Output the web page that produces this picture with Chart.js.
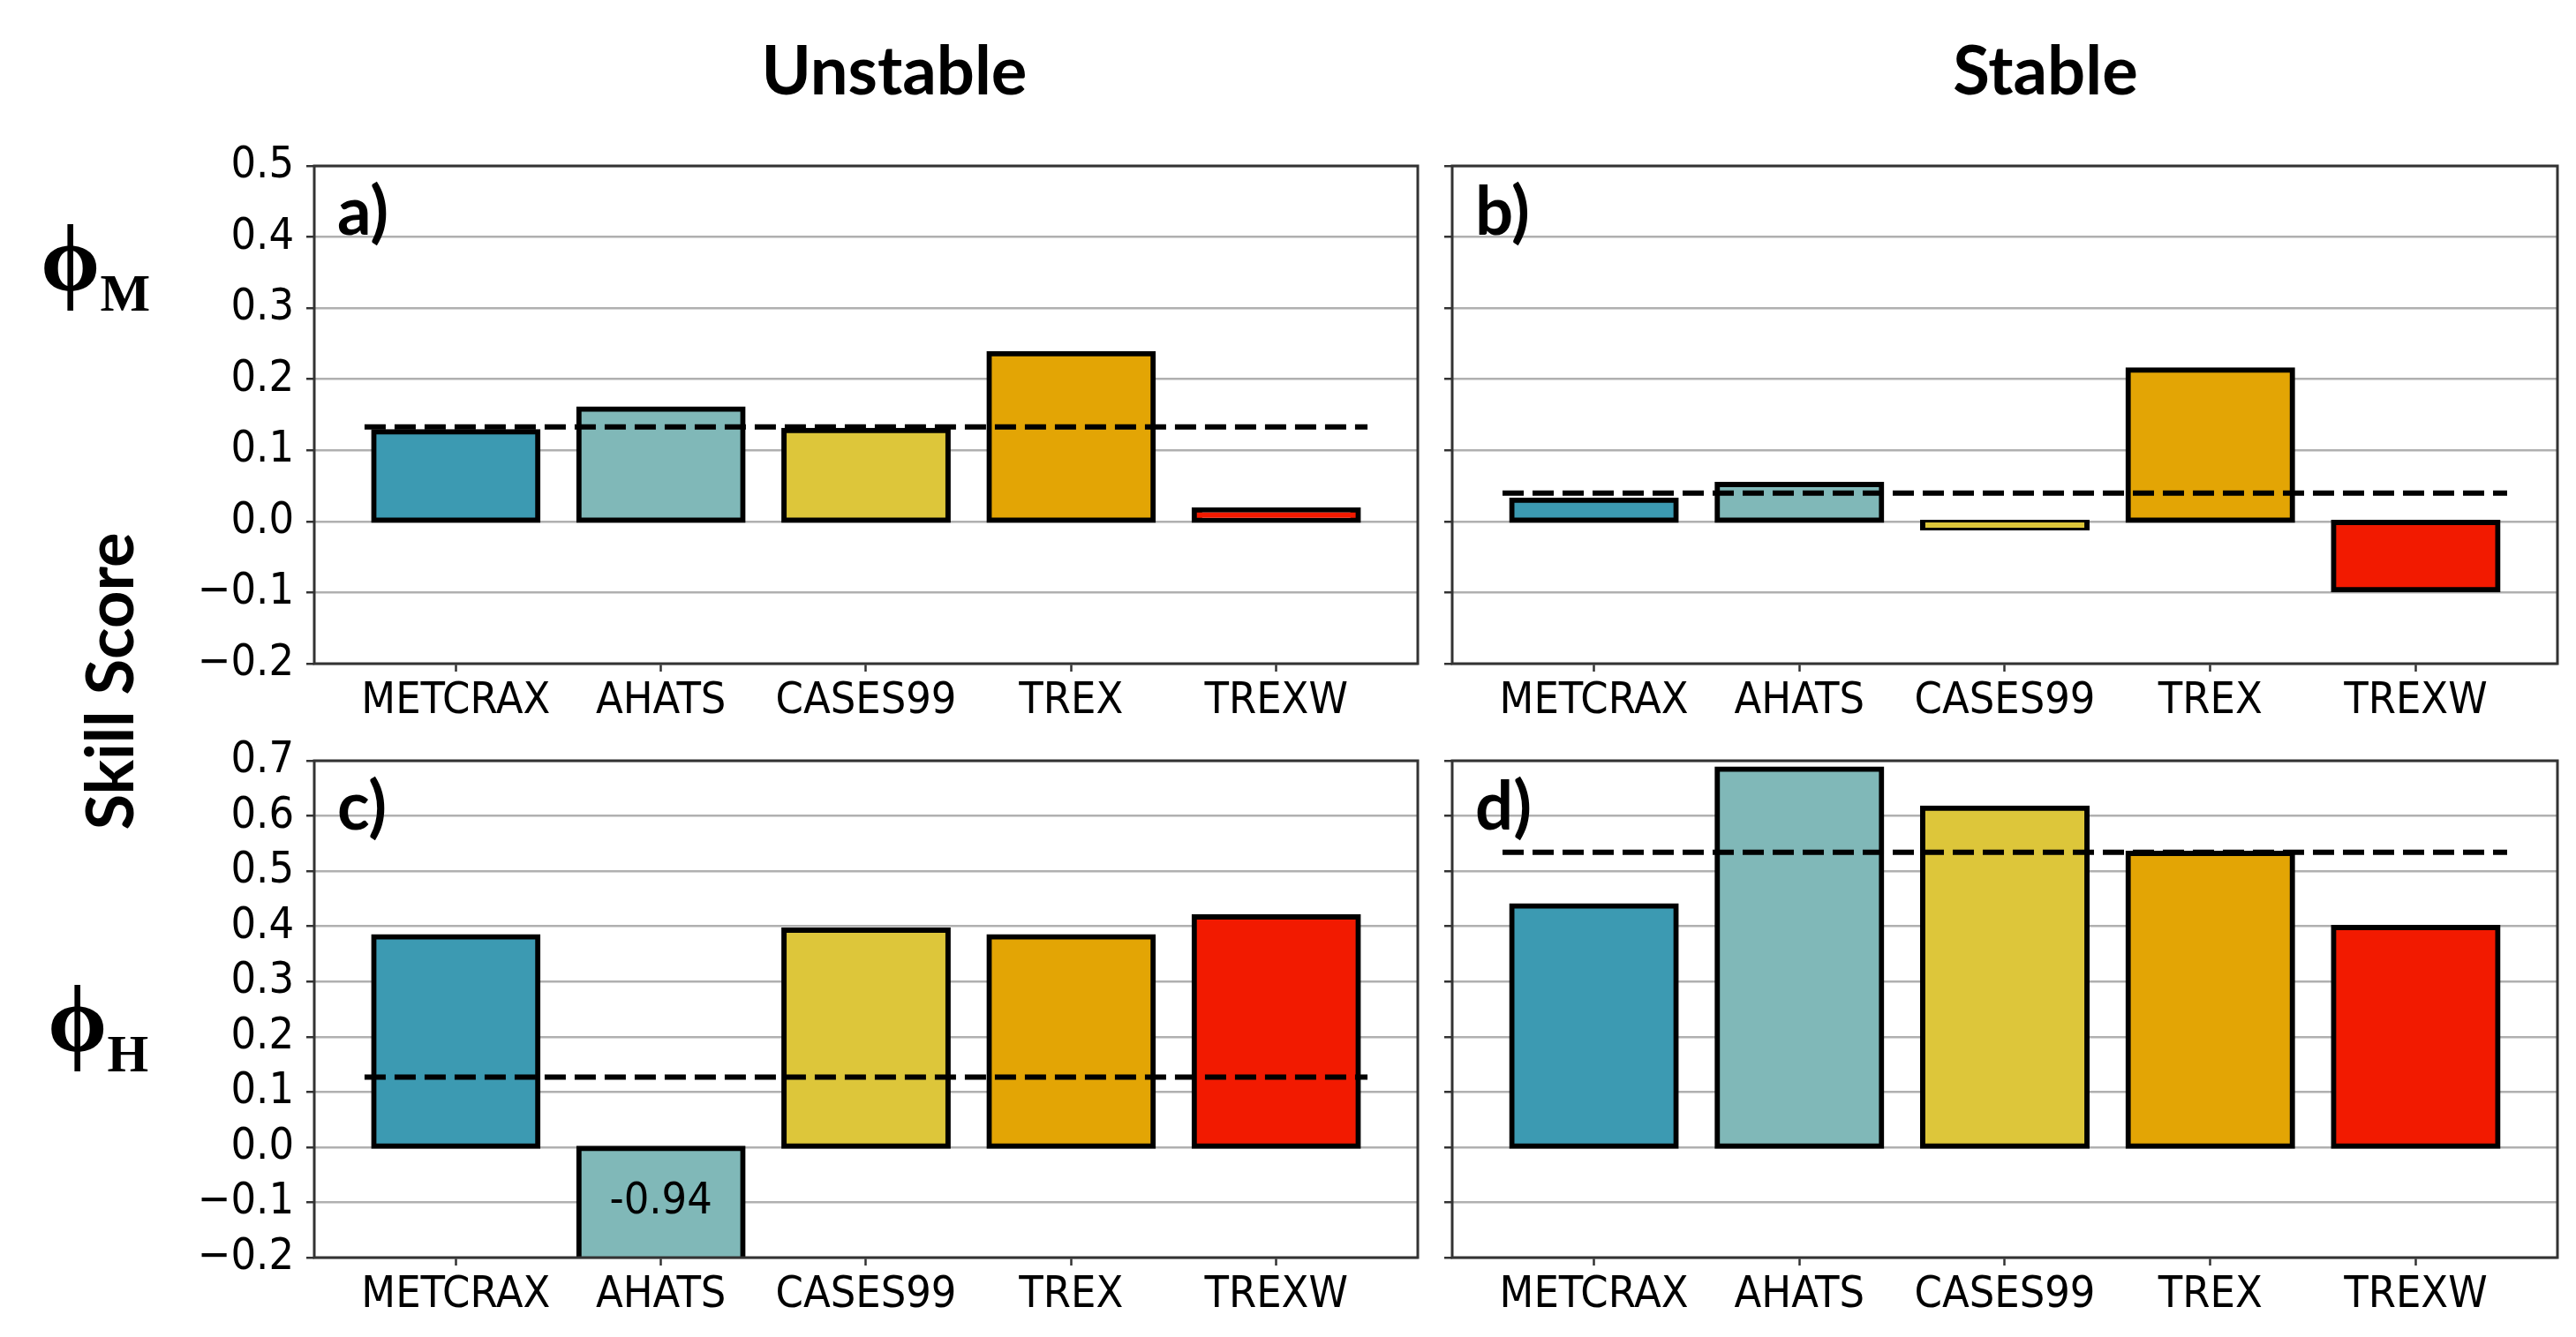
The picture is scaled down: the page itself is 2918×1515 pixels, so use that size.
<!DOCTYPE html>
<html>
<head>
<meta charset="utf-8">
<script src="https://cdn.jsdelivr.net/npm/chart.js@4.4.1/dist/chart.umd.min.js"></script>
<style>
  html, body { margin: 0; padding: 0; background: #fff; }
  #page { position: relative; width: 2918px; height: 1515px; overflow: hidden; }
  .panel { position: absolute; }
  .lbl { position: absolute; white-space: nowrap; color: #000; line-height: 1; }
  .title { font: bold 76px Lato, sans-serif; transform: translateX(-50%); }
  .phi { font-family: 'Liberation Serif', 'DejaVu Serif', serif; font-weight: bold; font-size: 108px; }
  .phi span { font-size: 60px; vertical-align: -23px; }
  .skill { font: bold 74px Lato, sans-serif; transform: translate(-50%, -50%) rotate(-90deg); }
</style>
</head>
<body>
<div id="page">
  <div class="lbl title" style="left:1013px; top:32px">Unstable</div>
  <div class="lbl title" style="left:2317px; top:32px">Stable</div>
  <div class="lbl phi" style="left:46px; top:239px">ϕ<span>M</span></div>
  <div class="lbl phi" style="left:54px; top:1101px">ϕ<span>H</span></div>
  <div class="lbl skill" style="left:122px; top:772px">Skill Score</div>
</div>
<script>
// skill scores per site
const categories = ['METCRAX', 'AHATS', 'CASES99', 'TREX', 'TREXW']
const barColors = ['#3c9ab2', '#80b8b8', '#ddc63a', '#e3a505', '#f21a00']
const unstablePhiM = [0.126, 0.158, 0.128, 0.236, 0.016]
const stablePhiM = [0.030, 0.052, -0.009, 0.213, -0.096]
const unstablePhiH = [0.381, -0.94, 0.393, 0.381, 0.417]
const stablePhiH = [0.437, 0.685, 0.614, 0.532, 0.398]
// dashed line level in panels a, b, c, d
const meanScores = [0.133, 0.040, 0.127, 0.534]
const phiMTicks = [-0.2, -0.1, 0.0, 0.1, 0.2, 0.3, 0.4, 0.5]
const phiHTicks = [-0.2, -0.1, 0.0, 0.1, 0.2, 0.3, 0.4, 0.5, 0.6, 0.7]

const tickFont = { family: "'DejaVu Sans Condensed', 'DejaVu Sans', sans-serif", size: 50 }
const padL = 130, padT = 40, padR = 20, padB = 100

const panels = [
  { letter: 'a)', values: unstablePhiM, mean: meanScores[0], ticks: phiMTicks, showY: true, box: [356, 184, 1606, 752] },
  { letter: 'b)', values: stablePhiM, mean: meanScores[1], ticks: phiMTicks, showY: false, box: [1645, 184, 2897, 752] },
  { letter: 'c)', values: unstablePhiH, mean: meanScores[2], ticks: phiHTicks, showY: true, box: [356, 858, 1606, 1425], note: true },
  { letter: 'd)', values: stablePhiH, mean: meanScores[3], ticks: phiHTicks, showY: false, box: [1645, 858, 2897, 1425] }
]

const fmt = v => (v < 0 ? '\u2212' : '') + Math.abs(v).toFixed(1)

// frame, panel letter and the clipped-bar value
const extras = {
  id: 'extras',
  afterDraw(chart, args, opts) {
    const { ctx, chartArea: a } = chart
    ctx.save()
    ctx.strokeStyle = '#333'
    ctx.lineWidth = 3
    ctx.strokeRect(a.left, a.top, a.right - a.left, a.bottom - a.top)
    ctx.fillStyle = '#000'
    ctx.font = 'bold 76px Lato, sans-serif'
    ctx.textAlign = 'left'
    ctx.textBaseline = 'alphabetic'
    ctx.fillText(opts.letter, a.left + 26, a.top + 78)
    if (opts.note) {
      const xs = chart.scales.x, ys = chart.scales.y
      const vals = chart.data.datasets[0].data
      const i = vals.findIndex(d => d.y < ys.min)
      ctx.font = tickFont.size + 'px ' + tickFont.family
      ctx.textAlign = 'center'
      ctx.textBaseline = 'middle'
      ctx.fillText(vals[i].y.toFixed(2), xs.getPixelForValue(i), ys.getPixelForValue(ys.min / 2))
    }
    ctx.restore()
  }
}

const page = document.getElementById('page')

panels.forEach(p => {
  const [L, T, R, B] = p.box
  const w = R - L + padL + padR
  const h = B - T + padT + padB
  const wrap = document.createElement('div')
  wrap.className = 'panel'
  wrap.style.left = (L - padL) + 'px'
  wrap.style.top = (T - padT) + 'px'
  const canvas = document.createElement('canvas')
  canvas.width = w
  canvas.height = h
  canvas.style.width = w + 'px'
  canvas.style.height = h + 'px'
  wrap.appendChild(canvas)
  page.appendChild(wrap)

  new Chart(canvas, {
    type: 'bar',
    data: {
      datasets: [
        {
          type: 'bar',
          data: p.values.map((v, i) => ({ x: i, y: v })),
          backgroundColor: barColors,
          borderColor: '#000',
          borderWidth: 6,
          borderSkipped: false,
          inflateAmount: 3,
          barPercentage: 0.8,
          categoryPercentage: 1,
          clip: 0,
          order: 2
        },
        {
          type: 'line',
          data: [{ x: -0.445, y: p.mean }, { x: 4.445, y: p.mean }],
          borderColor: '#000',
          borderWidth: 6,
          borderDash: [24, 10],
          pointRadius: 0,
          fill: false,
          order: 1
        }
      ]
    },
    options: {
      responsive: false,
      animation: false,
      devicePixelRatio: 1,
      layout: { padding: { left: 0, top: padT, right: padR, bottom: 0 } },
      plugins: {
        legend: { display: false },
        tooltip: { enabled: false },
        extras: { letter: p.letter, note: !!p.note }
      },
      scales: {
        x: {
          type: 'linear',
          min: -0.69,
          max: 4.69,
          offset: false,
          afterBuildTicks: s => { s.ticks = categories.map((c, i) => ({ value: i })) },
          afterFit: s => { s.height = padB },
          ticks: {
            autoSkip: false, maxRotation: 0, color: '#000', font: tickFont, padding: 4,
            callback: v => categories[v]
          },
          grid: { display: true, drawOnChartArea: false, drawTicks: true, tickLength: 9, tickColor: '#333', tickWidth: 2.5, offset: false },
          border: { display: false }
        },
        y: {
          min: p.ticks[0],
          max: p.ticks[p.ticks.length - 1],
          z: 1,
          afterBuildTicks: s => { s.ticks = p.ticks.map(v => ({ value: v })) },
          afterFit: s => { s.width = padL },
          ticks: { autoSkip: false, color: '#000', font: tickFont, padding: 14, callback: v => p.showY ? fmt(v) : '' },
          grid: { color: '#b0b0b0', lineWidth: 2.5, tickColor: '#333', tickLength: 9, tickWidth: 2.5 },
          border: { display: false }
        }
      }
    },
    plugins: [extras]
  })
})
</script>
</body>
</html>
